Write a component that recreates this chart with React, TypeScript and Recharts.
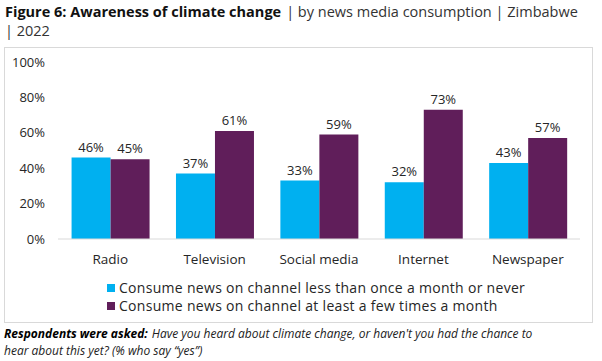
import React from 'react';
import { BarChart, Bar, XAxis, YAxis, Legend, LabelList } from 'recharts';

const categories = ['Radio', 'Television', 'Social media', 'Internet', 'Newspaper'];
const lessOften = [46, 37, 33, 32, 43];
const atLeastMonthly = [45, 61, 59, 73, 57];
const yTicks = [0, 20, 40, 60, 80, 100];
const seriesNames = [
  'Consume news on channel less than once a month or never',
  'Consume news on channel at least a few times a month',
];
const seriesColors = ['#00B0F0', '#601E5A'];

const data = categories.map((c, i) => ({ name: c, a: lessOften[i], b: atLeastMonthly[i] }));

const FONT = '"Open Sans", "DejaVu Sans", sans-serif';

const LegendContent = () => (
  <div style={{ paddingLeft: 103, paddingTop: 10, fontFamily: FONT, fontSize: 14, letterSpacing: 0.3, lineHeight: '18px', color: '#262626' }}>
    {seriesNames.map((n, i) => (
      <div key={n} style={{ display: 'flex', alignItems: 'center', height: 18 }}>
        <span style={{ display: 'inline-block', width: 8, height: 8, background: seriesColors[i], marginRight: 4 }} />
        <span>{n}</span>
      </div>
    ))}
  </div>
);

export default function App() {
  return (
    <div style={{ position: 'absolute', left: 0, top: 0, width: 602, height: 361, background: '#fff', fontFamily: FONT }}>
      <div style={{ position: 'absolute', left: 5, top: 2, width: 597, fontSize: 14.5, lineHeight: '19px', color: '#111', whiteSpace: 'nowrap' }}>
        <div style={{ height: 19 }}>
          <span style={{ fontWeight: 700 }}>Figure 6: Awareness of climate change</span>
          <span style={{ color: '#333', marginLeft: 5 }}>| by news media consumption | Zimbabwe</span>
        </div>
        <div style={{ color: '#333', height: 19 }}>| 2022</div>
      </div>
      <div style={{ position: 'absolute', left: 4, top: 47, width: 589, height: 276, border: '1px solid #D9D9D9', boxSizing: 'border-box' }} />
      <div style={{ position: 'absolute', left: 4, top: 47 }}>
        <BarChart width={590} height={276} data={data} margin={{ top: 15, right: 14, bottom: 8, left: 0 }} barCategoryGap="13%" barGap={0}>
          <XAxis dataKey="name" axisLine={{ stroke: '#D9D9D9' }} tickLine={false} tick={{ fill: '#262626', fontSize: 13.5, fontFamily: FONT }} tickMargin={9} />
          <YAxis width={54} domain={[0, 100]} ticks={yTicks} axisLine={false} tickLine={false} tickSize={0} tickMargin={13}
            tickFormatter={(v: number) => `${v}%`} tick={{ fill: '#262626', fontSize: 13, fontFamily: FONT }} />
          <Legend layout="horizontal" verticalAlign="bottom" align="left" content={<LegendContent />} />
          <Bar dataKey="a" name={seriesNames[0]} fill={seriesColors[0]} isAnimationActive={false}>
            <LabelList dataKey="a" position="top" offset={6} formatter={(v: number) => `${v}%`} style={{ fill: '#262626', fontSize: 13, fontFamily: FONT }} />
          </Bar>
          <Bar dataKey="b" name={seriesNames[1]} fill={seriesColors[1]} isAnimationActive={false}>
            <LabelList dataKey="b" position="top" offset={6} formatter={(v: number) => `${v}%`} style={{ fill: '#262626', fontSize: 13, fontFamily: FONT }} />
          </Bar>
        </BarChart>
      </div>
      <div style={{ position: 'absolute', left: 4, top: 325, width: 590, fontSize: 12, lineHeight: '17px', fontStyle: 'italic', color: '#222', whiteSpace: 'nowrap' }}>
        <div>
          <span style={{ fontWeight: 700, color: '#000' }}>Respondents were asked:</span>
          <span style={{ marginLeft: 4 }}>Have you heard about climate change, or haven't you had the chance to</span>
        </div>
        <div>hear about this yet? (% who say “yes”)</div>
      </div>
    </div>
  );
}
